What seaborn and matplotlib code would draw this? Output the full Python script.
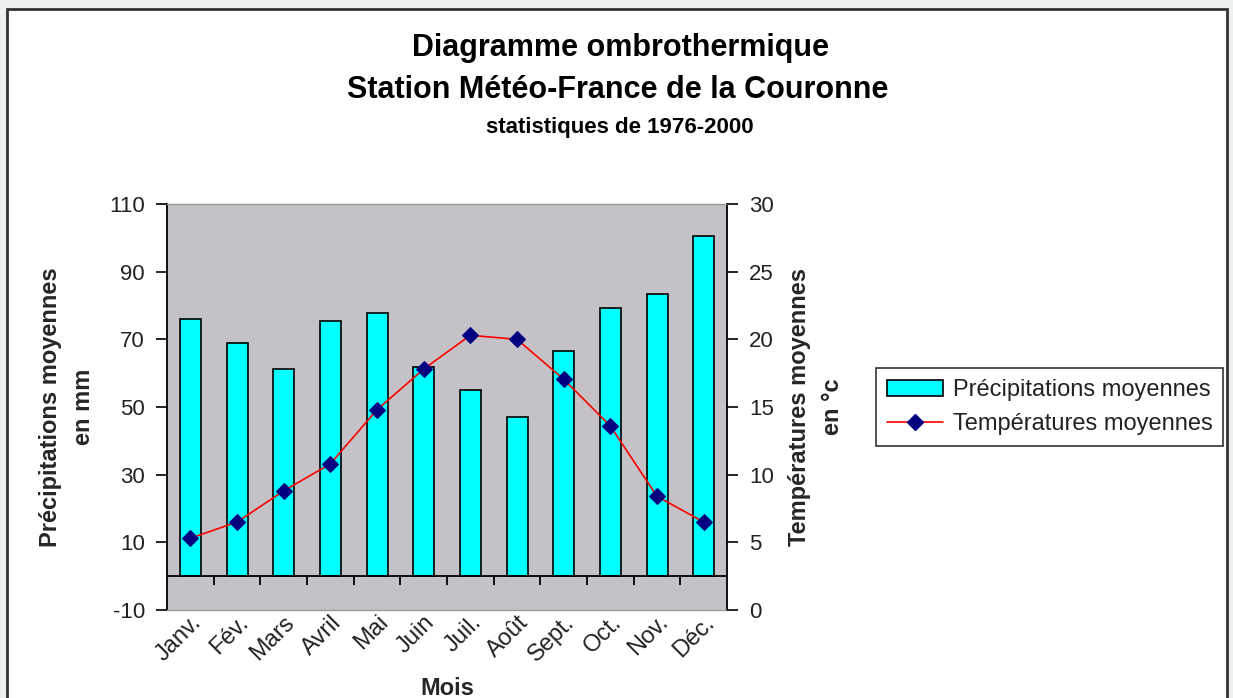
import numpy as np
import pandas as pd
import matplotlib
matplotlib.use("Agg")
import matplotlib.pyplot as plt
import seaborn as sns
from matplotlib.patches import Rectangle, Patch
from matplotlib.lines import Line2D

# ---- data ----
mois = ["Janv.", "Fév.", "Mars", "Avril", "Mai", "Juin", "Juil.", "Août",
        "Sept.", "Oct.", "Nov.", "Déc."]
precip = [76.0, 69.0, 61.3, 75.5, 77.9, 61.7, 55.1, 47.0, 66.5, 79.3, 83.5, 100.6]
temp = [5.3, 6.5, 8.8, 10.8, 14.8, 17.8, 20.3, 20.0, 17.05, 13.6, 8.4, 6.5]
left_ticks = list(range(-10, 111, 20))
right_ticks = list(range(0, 31, 5))

df = pd.DataFrame({"mois": mois, "precip": precip, "temp": temp, "pos": np.arange(len(mois))})

sns.set_style("white")
plt.rcParams["font.family"] = ["Liberation Sans", "DejaVu Sans"]
plt.rcParams["axes.unicode_minus"] = False

W, H = 1233, 698
fig = plt.figure(figsize=(W / 100, H / 100), dpi=100, facecolor="#edf1ed")

# white chart area with dark frame (screenshot border)
fig.patches.append(Rectangle((7 / W, -0.05), (1227 - 7) / W, 1.05 - 9 / H,
                             transform=fig.transFigure, facecolor="white",
                             edgecolor="#333333", linewidth=2, zorder=-10))

ax = fig.add_axes([167 / W, 1 - 610 / H, (727 - 167) / W, (610 - 204) / H])
ax.set_facecolor("#c4c2c6")

sns.barplot(data=df, x="mois", y="precip", color="#00ffff", edgecolor="black",
            linewidth=1.2, width=0.45, saturation=1, ax=ax, zorder=2)

ax.set_xlim(-0.5, len(mois) - 0.5)
ax.set_ylim(-10, 110)
ax.set_yticks(left_ticks)
ax.tick_params(axis="y", direction="out", length=8, width=1.2, color="black",
               labelsize=16, pad=8, labelcolor="#222222")
ax.tick_params(axis="x", length=0, labelsize=17, pad=1, labelcolor="#222222")
ax.set_xticks(df["pos"])
ax.set_xticklabels(mois, rotation=45, ha="right", va="top", rotation_mode="anchor")

# zero line and category separators
ax.axhline(0, color="black", linewidth=1.3, zorder=3)
bounds = np.arange(0.5, len(mois) - 0.5, 1.0)
ax.vlines(bounds, -2.6, 0, color="black", linewidth=1.3, zorder=3)

for s in ["left", "right"]:
    ax.spines[s].set_color("black")
    ax.spines[s].set_linewidth(1.3)
for s in ["top", "bottom"]:
    ax.spines[s].set_color("#999999")
    ax.spines[s].set_linewidth(1)

ax.set_xlabel("Mois", fontsize=17, fontweight="bold", labelpad=8)
ax.set_ylabel("Précipitations moyennes\nen mm", fontsize=17, fontweight="bold",
              labelpad=10, linespacing=1.55)

# temperature on the right axis
ax2 = ax.twinx()
sns.lineplot(data=df, x="pos", y="temp", color="red", linewidth=1.2,
             marker="D", markersize=8, markerfacecolor="#000080",
             markeredgecolor="#000080", sort=False, ax=ax2, zorder=4)
ax2.set_ylim(0, 30)
ax2.set_yticks(right_ticks)
ax2.tick_params(axis="y", direction="out", length=8, width=1.2, color="black",
                labelsize=16, pad=8, labelcolor="#222222")
ax2.set_ylabel("Températures moyennes\nen °c", fontsize=17, fontweight="bold",
               labelpad=10, linespacing=1.55)
for s in ax2.spines.values():
    s.set_visible(False)

# titles
fig.text(620 / W, 1 - 48 / H, "Diagramme ombrothermique", ha="center", va="center",
         fontsize=22, fontweight="bold", color="black")
fig.text(618 / W, 1 - 90 / H, "Station Météo-France de la Couronne", ha="center",
         va="center", fontsize=22, fontweight="bold", color="black")
fig.text(620 / W, 1 - 127 / H, "statistiques de 1976-2000", ha="center", va="center",
         fontsize=16, fontweight="bold", color="black")

# legend
handles = [Patch(facecolor="#00ffff", edgecolor="black", linewidth=1.2),
           Line2D([0], [0], color="red", linewidth=1.2, marker="D", markersize=8,
                  markerfacecolor="#000080", markeredgecolor="#000080")]
leg = fig.legend(handles, ["Précipitations moyennes", "Températures moyennes"],
                 loc="center left", bbox_to_anchor=(876 / W, 1 - 407 / H),
                 fontsize=17, frameon=True, fancybox=False, edgecolor="black",
                 handlelength=2.4, handletextpad=0.4, borderpad=0.45,
                 labelspacing=0.5, borderaxespad=0)
leg.get_frame().set_linewidth(1.2)
for t in leg.get_texts():
    t.set_color("#222222")

fig.savefig("out.png", dpi=100, facecolor=fig.get_facecolor())
